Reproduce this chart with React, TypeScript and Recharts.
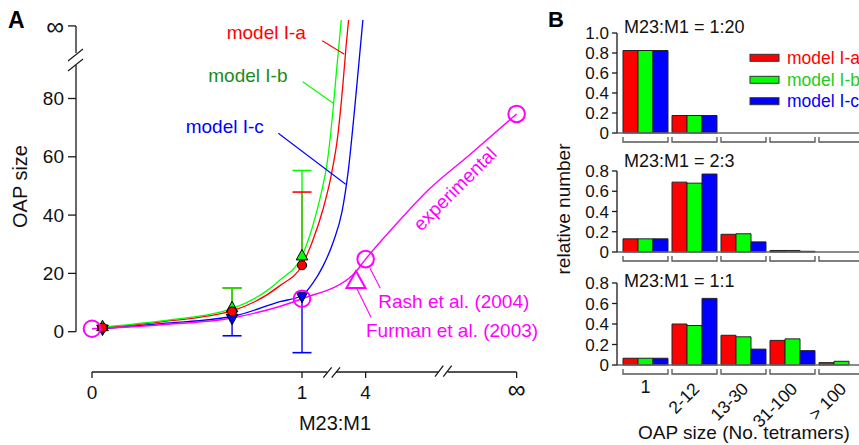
import React from 'react';
import { ComposedChart, Line, Scatter, XAxis, YAxis, ReferenceLine, BarChart, Bar } from 'recharts';

const FONT = '"Liberation Sans", Arial, Helvetica, sans-serif';
const RED = '#ff0000';
const GREEN = '#00ff00';
const BLUE = '#0000ff';
const MAGENTA = '#ff00ff';
const AXIS = '#1a1a1a';

// ---------------- Panel A ----------------
// x = position on the broken M23:M1 axis (0..1 linear, then "4" and "∞")
const X_MIN = -0.0762;
const X_MAX = 2.0857;
const Y_MIN = -13.83;
const Y_MAX = 106.93;
const X_TICKS = [0, 1, 1.303, 2.022];
const X_TICK_LABELS = ['0', '1', '4', '∞'];
const Y_TICKS = [0, 20, 40, 60, 80, 104.9];
const Y_TICK_LABELS = ['0', '20', '40', '60', '80', '∞'];
const X_AXIS_PIECES = [[0, 1.121], [1.162, 1.652], [1.693, 2.022]];
const Y_AXIS_PIECES = [[0, 91.5], [95.6, 104.9]];

const curveIa = [
  { x: 0.05, y: 1.4 }, { x: 0.33, y: 3.4 }, { x: 0.673, y: 7.3 }, { x: 0.895, y: 15.8 },
  { x: 1.0, y: 22.8 }, { x: 1.05, y: 31 }, { x: 1.1, y: 42 }, { x: 1.14, y: 54 },
  { x: 1.17, y: 67 }, { x: 1.195, y: 85 }, { x: 1.21, y: 98 }, { x: 1.222, y: 107 },
];
const curveIb = [
  { x: 0.05, y: 1.6 }, { x: 0.33, y: 3.7 }, { x: 0.673, y: 8.1 }, { x: 0.895, y: 17.7 },
  { x: 1.0, y: 26 }, { x: 1.05, y: 36 }, { x: 1.09, y: 47 }, { x: 1.12, y: 58 },
  { x: 1.145, y: 74 }, { x: 1.165, y: 90 }, { x: 1.178, y: 100 }, { x: 1.187, y: 107 },
];
const curveIc = [
  { x: 0.05, y: 1.0 }, { x: 0.33, y: 2.8 }, { x: 0.673, y: 5.3 }, { x: 0.895, y: 10.3 },
  { x: 1.0, y: 12.4 }, { x: 1.05, y: 16.5 }, { x: 1.1, y: 22.5 }, { x: 1.15, y: 31 },
  { x: 1.19, y: 41 }, { x: 1.22, y: 55 }, { x: 1.25, y: 76 }, { x: 1.272, y: 93 }, { x: 1.29, y: 107 },
];
const experimentalCurve = [
  { x: 0, y: 1 }, { x: 0.33, y: 2.4 }, { x: 0.673, y: 4.8 }, { x: 1, y: 11.3 },
  { x: 1.244, y: 19.6 }, { x: 1.303, y: 24.9 }, { x: 1.45, y: 37 }, { x: 1.6, y: 48.5 },
  { x: 1.8, y: 60.8 }, { x: 2.022, y: 74.7 },
];
const experimentalPoints = [{ x: 0, y: 1 }, { x: 1, y: 11.3 }, { x: 1.303, y: 24.9 }, { x: 2.022, y: 74.7 }];
const furmanPoint = [{ x: 1.257, y: 17.4 }];

const markersIa = [{ x: 0.05, y: 1.4 }, { x: 0.667, y: 6.9 }, { x: 1, y: 22.8 }];
const markersIb = [{ x: 0.05, y: 1.7 }, { x: 0.667, y: 8.2 }, { x: 1, y: 26 }];
const markersIc = [{ x: 0.05, y: 0.9 }, { x: 0.667, y: 4.6 }, { x: 1, y: 12.2 }];

const errIa = [{ x: 0.667, from: 6.9, to: 15 }, { x: 1, from: 22.8, to: 47.9 }];
const errIb = [{ x: 0.667, from: 8.2, to: 15 }, { x: 1, from: 26, to: 55.3 }];
const errIc = [{ x: 0.667, from: 4.6, to: -1.4 }, { x: 1, from: 12.2, to: -7.2 }];

// ---------------- Panel B ----------------
const OAP_CATEGORIES = ['1', '2-12', '13-30', '31-100', '> 100'];
const r120_Ia = [0.825, 0.175, 0, 0, 0];
const r120_Ib = [0.825, 0.175, 0, 0, 0];
const r120_Ic = [0.825, 0.175, 0, 0, 0];
const r23_Ia = [0.13, 0.69, 0.175, 0.015, 0];
const r23_Ib = [0.13, 0.68, 0.18, 0.015, 0];
const r23_Ic = [0.13, 0.77, 0.10, 0.007, 0];
const r11_Ia = [0.066, 0.40, 0.29, 0.24, 0.023];
const r11_Ib = [0.066, 0.385, 0.275, 0.255, 0.036];
const r11_Ic = [0.066, 0.65, 0.155, 0.14, 0];
const TICKS_1 = [0, 0.2, 0.4, 0.6, 0.8, 1.0];
const TICKS_08 = [0, 0.2, 0.4, 0.6, 0.8];

const circleShape = (color: string) => (p: any) => (
  <circle cx={p.cx} cy={p.cy} r={4.6} fill={color} stroke="#000" strokeWidth={1} />
);
const triUpShape = (color: string) => (p: any) => (
  <path d={`M${p.cx},${p.cy - 6.5} L${p.cx + 5.8},${p.cy + 4} L${p.cx - 5.8},${p.cy + 4} Z`} fill={color} stroke="#000" strokeWidth={1} />
);
const triDownShape = (color: string) => (p: any) => (
  <path d={`M${p.cx},${p.cy + 6.5} L${p.cx + 5.8},${p.cy - 4} L${p.cx - 5.8},${p.cy - 4} Z`} fill={color} stroke="#000" strokeWidth={1} />
);
const capShape = (color: string) => (p: any) => (
  <line x1={p.cx - 9.5} x2={p.cx + 9.5} y1={p.cy} y2={p.cy} stroke={color} strokeWidth={1.6} />
);
const openCircle = (p: any) => (
  <circle cx={p.cx} cy={p.cy} r={8.3} fill="none" stroke={MAGENTA} strokeWidth={2} />
);
const openTriangle = (p: any) => (
  <path d={`M${p.cx},${p.cy - 10} L${p.cx + 9.5},${p.cy + 7} L${p.cx - 9.5},${p.cy + 7} Z`} fill="none" stroke={MAGENTA} strokeWidth={2} />
);

const XTickA = (p: any) => {
  const i = X_TICKS.indexOf(p.payload.value);
  const lab = X_TICK_LABELS[i];
  const inf = lab === '∞';
  return (
    <text x={p.x} y={inf ? p.y + 8 : p.y + 11} textAnchor="middle" dominantBaseline="central" fontFamily={FONT} fontSize={inf ? 25 : 19} fill="#111">{lab}</text>
  );
};
const YTickA = (p: any) => {
  const i = Y_TICKS.indexOf(p.payload.value);
  const lab = Y_TICK_LABELS[i];
  const inf = lab === '∞';
  return (
    <text x={p.x} y={p.y} textAnchor="end" dominantBaseline="central" fontFamily={FONT} fontSize={inf ? 25 : 19} fill="#111">{lab}</text>
  );
};

function PanelA() {
  const errSets: [any[], string][] = [[errIa, RED], [errIb, GREEN], [errIc, BLUE]];
  return (
    <ComposedChart width={545} height={445} margin={{ top: 20, right: 15, left: 16, bottom: 43 }}>
      <XAxis type="number" dataKey="x" domain={[X_MIN, X_MAX]} allowDataOverflow ticks={X_TICKS} interval={0}
        axisLine={false} tickLine={{ stroke: AXIS, strokeWidth: 1.3 }} tickSize={6} tickMargin={3} height={30} tick={XTickA} />
      <YAxis type="number" dataKey="y" domain={[Y_MIN, Y_MAX]} allowDataOverflow ticks={Y_TICKS} interval={0}
        axisLine={false} tickLine={{ stroke: AXIS, strokeWidth: 1.3 }} tickSize={8} tickMargin={4} width={60} tick={YTickA} />
      {X_AXIS_PIECES.map((s, i) => (
        <ReferenceLine key={'xa' + i} segment={[{ x: s[0], y: Y_MIN }, { x: s[1], y: Y_MIN }]} stroke={AXIS} strokeWidth={1.3} ifOverflow="visible" />
      ))}
      {Y_AXIS_PIECES.map((s, i) => (
        <ReferenceLine key={'ya' + i} segment={[{ x: X_MIN, y: s[0] }, { x: X_MIN, y: s[1] }]} stroke={AXIS} strokeWidth={1.3} ifOverflow="visible" />
      ))}
      {errSets.map(([set, color], k) =>
        set.map((e, i) => (
          <ReferenceLine key={'eb' + k + '-' + i} segment={[{ x: e.x, y: e.from }, { x: e.x, y: e.to }]} stroke={color} strokeWidth={1.4} ifOverflow="visible" />
        ))
      )}
      <Line data={curveIc} dataKey="y" type="monotone" stroke={BLUE} strokeWidth={1.3} dot={false} isAnimationActive={false} />
      <Line data={curveIa} dataKey="y" type="monotone" stroke={RED} strokeWidth={1.3} dot={false} isAnimationActive={false} />
      <Line data={curveIb} dataKey="y" type="monotone" stroke={GREEN} strokeWidth={1.3} dot={false} isAnimationActive={false} />
      <Line data={experimentalCurve} dataKey="y" type="monotone" stroke={MAGENTA} strokeWidth={1.4} dot={false} isAnimationActive={false} />
      {errSets.map(([set, color], k) => (
        <Scatter key={'cap' + k} data={set.map((e) => ({ x: e.x, y: e.to }))} dataKey="y" shape={capShape(color)} isAnimationActive={false} />
      ))}
      <Scatter data={markersIc} dataKey="y" shape={triDownShape(BLUE)} isAnimationActive={false} />
      <Scatter data={markersIb} dataKey="y" shape={triUpShape(GREEN)} isAnimationActive={false} />
      <Scatter data={markersIa} dataKey="y" shape={circleShape(RED)} isAnimationActive={false} />
      <Scatter data={experimentalPoints} dataKey="y" shape={openCircle} isAnimationActive={false} />
      <Scatter data={furmanPoint} dataKey="y" shape={openTriangle} isAnimationActive={false} />
    </ComposedChart>
  );
}

const BracketTick = (p: any) => {
  const { x, y, payload, showLabel } = p;
  const half = 22.5;
  const lab = String(payload.value);
  return (
    <g>
      <path d={`M${x - half},${y + 4} V${y + 9} H${x + half} V${y + 4}`} fill="none" stroke="#555" strokeWidth={1.3} />
      {showLabel && (lab.length === 1 ? (
        <text x={x} y={y + 28} textAnchor="middle" fontFamily={FONT} fontSize={18} fill="#111">{lab}</text>
      ) : (
        <text x={x + 6} y={y + 25} textAnchor="end" fontFamily={FONT} fontSize={17.5} fill="#111" transform={`rotate(-45 ${x + 6} ${y + 25})`}>{lab}</text>
      ))}
    </g>
  );
};

function Hist(props: { top: number; marginTop: number; plotH: number; xH: number; yMax: number; ticks: number[]; a: number[]; b: number[]; c: number[]; showLabels: boolean }) {
  const { top, marginTop, plotH, xH, yMax, ticks, a, b, c, showLabels } = props;
  const data = OAP_CATEGORIES.map((cat, i) => ({ cat, Ia: a[i], Ib: b[i], Ic: c[i] }));
  return (
    <div style={{ position: 'absolute', left: 560, top }}>
      <BarChart width={320} height={marginTop + plotH + xH} data={data} margin={{ top: marginTop, right: 14, left: 0, bottom: 0 }} barGap={0} barSize={15}>
        <XAxis dataKey="cat" interval={0} padding={{ left: 4, right: 0 }} axisLine={{ stroke: '#666', strokeWidth: 1.6 }}
          tickLine={false} tickSize={0} tickMargin={0} height={xH} tick={(tp: any) => <BracketTick {...tp} showLabel={showLabels} />} />
        <YAxis type="number" domain={[0, yMax]} ticks={ticks} interval={0} width={57}
          axisLine={{ stroke: AXIS, strokeWidth: 1.3 }} tickLine={{ stroke: AXIS, strokeWidth: 1.3 }} tickSize={5} tickMargin={3}
          tickFormatter={(v: number) => (v === 0 ? '0' : v.toFixed(1))}
          tick={{ fontFamily: FONT, fontSize: 17, fill: '#111' }} />
        <Bar dataKey="Ia" fill={RED} stroke="#222" strokeWidth={1} isAnimationActive={false} />
        <Bar dataKey="Ib" fill={GREEN} stroke="#222" strokeWidth={1} isAnimationActive={false} />
        <Bar dataKey="Ic" fill={BLUE} stroke="#222" strokeWidth={1} isAnimationActive={false} />
      </BarChart>
    </div>
  );
}

function Overlay() {
  const t = { fontFamily: FONT };
  return (
    <svg width={859} height={445} style={{ position: 'absolute', left: 0, top: 0, pointerEvents: 'none' }}>
      <text x={8} y={28} {...t} fontSize={23} fontWeight="bold" fill="#000">A</text>
      <text x={548} y={27} {...t} fontSize={22} fontWeight="bold" fill="#000">B</text>
      {/* axis breaks */}
      <g stroke={AXIS} strokeWidth={1.3}>
        <line x1={68} y1={61} x2={83} y2={49} />
        <line x1={68} y1={71} x2={83} y2={59} />
        <line x1={323.3} y1={377.7} x2={331.7} y2={367.3} />
        <line x1={331.7} y1={377.7} x2={340} y2={367.3} />
        <line x1={435} y1={376.7} x2={443.3} y2={365.7} />
        <line x1={443.3} y1={376.7} x2={451.7} y2={365.7} />
      </g>
      <text transform="translate(20,186.5) rotate(-90)" textAnchor="middle" dominantBaseline="central" {...t} fontSize={20} fill="#111">OAP size</text>
      <text x={335} y={430} textAnchor="middle" {...t} fontSize={20} fill="#111">M23:M1</text>
      {/* model labels */}
      <text x={226.7} y={39.3} {...t} fontSize={19} fill={RED}>model I-a</text>
      <line x1={322.3} y1={40.7} x2={344.3} y2={54.3} stroke={RED} strokeWidth={1.1} />
      <text x={208.3} y={81.5} {...t} fontSize={19} fill="#1a8c1a">model I-b</text>
      <line x1={302.7} y1={81.7} x2={333.3} y2={103.3} stroke={GREEN} strokeWidth={1.1} />
      <text x={185.7} y={132.7} {...t} fontSize={19} fill={BLUE}>model I-c</text>
      <line x1={278.3} y1={133.3} x2={345.7} y2={184.3} stroke={BLUE} strokeWidth={1.1} />
      <text transform="translate(455,189) rotate(-45)" textAnchor="middle" dominantBaseline="central" {...t} fontSize={19} fill={MAGENTA}>experimental</text>
      <line x1={370} y1={268.3} x2={380.3} y2={288.3} stroke={MAGENTA} strokeWidth={1.1} />
      <text x={378.3} y={307.5} {...t} fontSize={19} fill={MAGENTA}>Rash et al. (2004)</text>
      <line x1={356.7} y1={288.3} x2={371} y2={317.3} stroke={MAGENTA} strokeWidth={1.1} />
      <text x={366} y={337.3} {...t} fontSize={19} fill={MAGENTA}>Furman et al. (2003)</text>
      {/* panel B */}
      <text x={624} y={33} {...t} fontSize={18} fill="#111">M23:M1 = 1:20</text>
      <text x={624} y={166.7} {...t} fontSize={18} fill="#111">M23:M1 = 2:3</text>
      <text x={624} y={287.3} {...t} fontSize={18} fill="#111">M23:M1 = 1:1</text>
      <text transform="translate(563,209) rotate(-90)" textAnchor="middle" dominantBaseline="central" {...t} fontSize={19} fill="#111">relative number</text>
      <text x={744} y={439} textAnchor="middle" {...t} fontSize={19} fill="#111">OAP size (No. tetramers)</text>
      <rect x={750} y={54.3} width={29} height={7} fill={RED} stroke="#333" strokeWidth={1} />
      <text x={787} y={63.5} {...t} fontSize={17.5} fill={RED}>model I-a</text>
      <rect x={750} y={76.3} width={29} height={7} fill={GREEN} stroke="#333" strokeWidth={1} />
      <text x={787} y={85.5} {...t} fontSize={17.5} fill="#22cc22">model I-b</text>
      <rect x={750} y={97.7} width={29} height={7} fill={BLUE} stroke="#333" strokeWidth={1} />
      <text x={787} y={107} {...t} fontSize={17.5} fill={BLUE}>model I-c</text>
    </svg>
  );
}

export default function App() {
  return (
    <div style={{ position: 'absolute', left: 0, top: 0, width: 859, height: 445, overflow: 'hidden', background: '#fff', fontFamily: FONT }}>
      <div style={{ position: 'absolute', left: 0, top: 0 }}>
        <PanelA />
      </div>
      <Hist top={0} marginTop={33} plotH={100} xH={14} yMax={1} ticks={TICKS_1} a={r120_Ia} b={r120_Ib} c={r120_Ic} showLabels={false} />
      <Hist top={161} marginTop={10} plotH={81} xH={14} yMax={0.8} ticks={TICKS_08} a={r23_Ia} b={r23_Ib} c={r23_Ic} showLabels={false} />
      <Hist top={273} marginTop={10} plotH={82} xH={80} yMax={0.8} ticks={TICKS_08} a={r11_Ia} b={r11_Ib} c={r11_Ic} showLabels={true} />
      <Overlay />
    </div>
  );
}
